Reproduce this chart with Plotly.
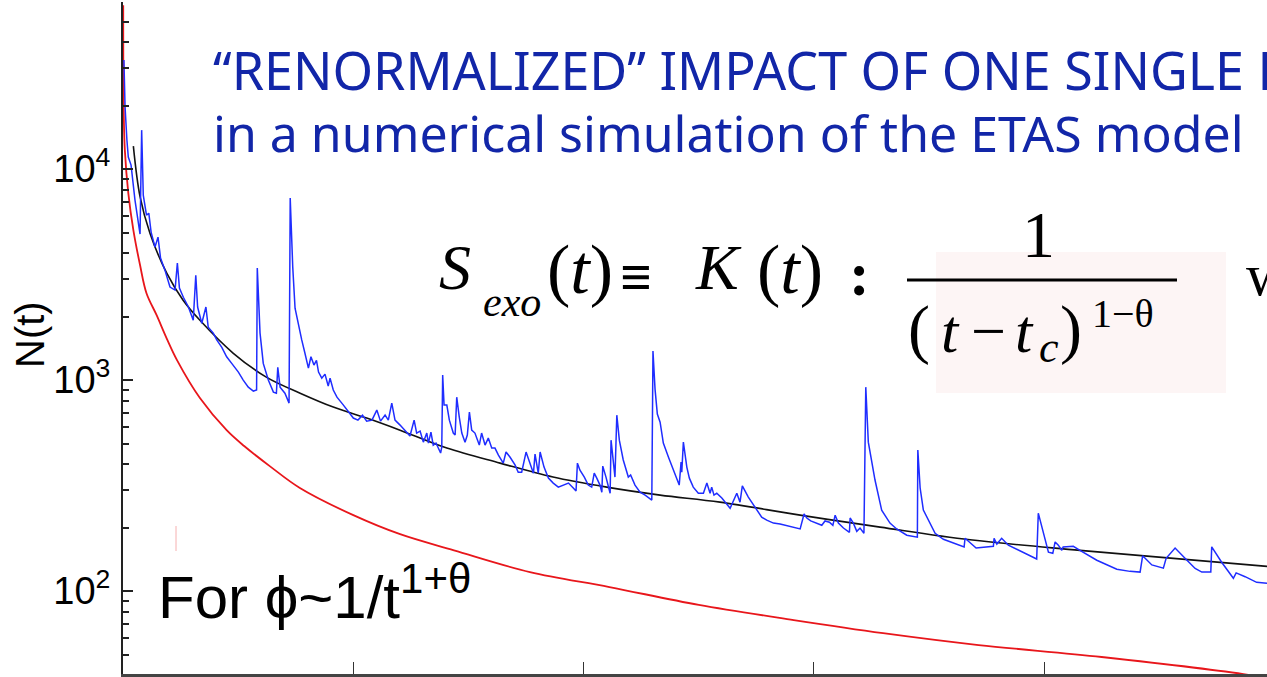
import plotly.graph_objects as go

# ---------------- data ----------------
blue_t = [4, 9, 17, 23, 35, 52, 74, 81, 88, 102, 112, 122, 139, 152, 163, 182, 204, 226, 236, 245,
          262, 284, 305, 316, 324, 342, 360, 370, 392, 407, 429, 450, 472, 486, 501, 522, 544, 566, 580, 583,
          595, 609, 631, 653, 666, 672, 682, 703, 721, 726, 737, 747, 761, 776, 790, 805, 816, 829, 840, 849,
          863, 877, 891, 899, 913, 929, 957, 981, 1000, 1020, 1040, 1058, 1081, 1102, 1118, 1138, 1152, 1167, 1181, 1203,
          1224, 1246, 1264, 1275, 1290, 1304, 1319, 1326, 1337, 1347, 1359, 1369, 1379, 1384, 1388, 1394, 1406, 1417, 1434, 1442,
          1449, 1460, 1471, 1485, 1495, 1504, 1514, 1528, 1547, 1557, 1572, 1586, 1601, 1615, 1630, 1651, 1663, 1680, 1702, 1716,
          1731, 1750, 1767, 1782, 1789, 1803, 1811, 1828, 1847, 1868, 1890, 1919, 1934, 1955, 1967, 1973, 1984, 2003, 2020, 2035,
          2046, 2057, 2071, 2079, 2083, 2097, 2115, 2119, 2129, 2136, 2144, 2155, 2172, 2194, 2204, 2223, 2245, 2267, 2296, 2301,
          2310, 2320, 2332, 2346, 2368, 2389, 2415, 2423, 2426, 2433, 2448, 2459, 2476, 2498, 2520, 2535, 2549, 2556, 2566, 2578,
          2600, 2636, 2665, 2679, 2689, 2715, 2744, 2773, 2795, 2824, 2853, 2896, 2940, 2957, 2969, 2986, 3012, 3034, 3048, 3067,
          3082, 3092, 3106, 3128, 3154, 3157, 3171, 3186, 3200, 3217, 3225, 3236, 3265, 3294, 3330, 3359, 3403, 3449, 3451, 3461,
          3475, 3526, 3562, 3605, 3652, 3656, 3704, 3779, 3782, 3794, 3815, 3844, 3909, 3967, 3974, 3989, 4018, 4037, 4047, 4061,
          4076, 4082, 4098, 4126, 4155, 4228, 4315, 4372, 4416, 4427, 4467, 4495, 4517, 4529, 4568, 4611, 4655, 4684, 4723, 4727,
          4770, 4821, 4833, 4872, 4922, 4967]
blue_n = [32900, 19680, 13710, 11400, 10450, 7130, 4920, 15300, 7530, 6050, 6180, 5030, 4270, 4760, 3790, 3320, 2760, 2670, 3590, 2730,
          2470, 2220, 1920, 3140, 2220, 1860, 2220, 1780, 1670, 1550, 1430, 1290, 1200, 1150, 1091, 1000, 926, 887, 897, 3400,
          1670, 1200, 1000, 877, 867, 1150, 926, 867, 778, 7290, 3430, 2190, 1820, 1550, 1340, 1140, 1290, 1178, 1240, 1091,
          1022, 1067, 937, 1022, 897, 830, 761, 698, 661, 646, 682, 639, 646, 721, 639, 682, 646, 778, 646, 612,
          579, 543, 646, 561, 573, 508, 561, 503, 567, 492, 503, 476, 451, 481, 1056, 761, 761, 646, 561, 549,
          830, 668, 561, 508, 549, 705, 579, 561, 492, 561, 492, 531, 476, 476, 441, 404, 456, 432, 396, 366,
          366, 456, 404, 362, 446, 362, 456, 387, 343, 325, 311, 321, 325, 308, 298, 404, 374, 347, 318, 311,
          362, 343, 318, 294, 391, 347, 291, 519, 409, 347, 682, 519, 418, 347, 355, 318, 294, 285, 270, 1372,
          906, 690, 632, 503, 432, 374, 318, 409, 366, 508, 387, 343, 311, 291, 291, 325, 291, 311, 285, 291,
          276, 247, 291, 264, 315, 279, 250, 224, 217, 210, 208, 203, 197, 232, 222, 215, 210, 205, 215, 212,
          205, 229, 210, 199, 190, 222, 210, 192, 199, 188, 926, 508, 336, 242, 210, 197, 184, 180, 466, 308,
          242, 188, 176, 169, 162, 178, 160, 163, 178, 167, 178, 165, 153, 142, 234, 201, 153, 151, 171, 165,
          156, 162, 162, 163, 156, 140, 127, 124, 123, 147, 133, 131, 128.5, 143, 160, 143, 128, 123, 123, 162,
          137, 115, 122, 117, 110, 109]

fit_t = [45, 74, 117, 190, 261, 334, 479, 624, 769, 913, 1058, 1203, 1406, 1637, 1867, 2100, 2332, 2592, 2940,
         3287, 3678, 4155, 4967]
fit_n = [12850, 7400, 4970, 3210, 2390, 1920, 1340, 1030, 867, 745, 661, 579, 476, 404, 347, 311, 285, 264, 229,
         201, 175, 156, 131]

bare_t = [1, 3, 8, 23, 45, 74, 102, 146, 190, 235, 334, 450, 526, 640, 768, 1000, 1203, 1437, 1767, 2112, 2500,
          2912, 3300, 3715, 4249, 4890, 4967]
bare_n = [59800, 19050, 12300, 7700, 5140, 3510, 2580, 2030, 1573, 1240, 822, 579, 487, 389, 308, 229, 186, 156,
          123, 104.5, 86.0, 72.9, 63.2, 55.5, 48.7, 40.0, 38.5]

x_ticks = [1000, 2000, 3000, 4000]
y_major = [100, 1000, 10000]
y_major_text = ["10<sup>2</sup>", "10<sup>3</sup>", "10<sup>4</sup>"]
y_minor = [50, 60, 70, 80, 90, 200, 300, 400, 500, 600, 700, 800, 900,
           2000, 3000, 4000, 5000, 6000, 7000, 8000, 9000, 20000, 30000, 40000, 50000]

# ---------------- figure ----------------
W, H = 1267, 677
L, R, T, B = 123, 0, 2, 3


def px(X):
    return (X - L) / (W - L - R)


def py(Y):
    return (H - B - Y) / (H - T - B)


METRICS = {"Liberation Serif": (0.891, 0.216), "Liberation Sans": (0.905, 0.212), "Noto Sans": (1.069, 0.293)}


def label(text, left, base, size, family, color="black", anchor="bottom", xanchor="left"):
    asc, desc = METRICS[family]
    if anchor == "bottom":
        y = base + desc * size
    else:
        y = base - (asc - desc) / 2 * size
    return dict(text=text, x=px(left), y=py(y), xanchor=xanchor, yanchor=anchor, xref="paper", yref="paper",
                showarrow=False, borderpad=0, borderwidth=0, font=dict(family=family, size=size, color=color))


fig = go.Figure()
fig.add_trace(go.Scatter(x=bare_t, y=bare_n, mode="lines", line=dict(color="#e8161b", width=1.8, shape="spline"),
                         showlegend=False, hoverinfo="skip"))
fig.add_trace(go.Scatter(x=fit_t, y=fit_n, mode="lines", line=dict(color="#111111", width=1.6, shape="spline"),
                         showlegend=False, hoverinfo="skip"))
fig.add_trace(go.Scatter(x=blue_t, y=blue_n, mode="lines", line=dict(color="#1f2dff", width=1.5),
                         showlegend=False, hoverinfo="skip"))

blue_txt = "#1226a8"
SR = "Liberation Serif"
ann = [
    label("“RENORMALIZED” IMPACT OF ONE SINGLE EVENT", 213, 90, 52, "Noto Sans", blue_txt, "middle"),
    label("in a numerical simulation of the ETAS model", 213, 152, 50, "Noto Sans", blue_txt, "middle"),
    # left-hand side of the formula
    label("<i>S</i>", 439, 289, 64, SR),
    label("<i>exo</i>", 483, 316, 42, SR),
    label("(<i>t</i>)", 547, 293, 70, SR),
    label("<b>≡</b>", 620, 296, 56, SR),
    label("<i>K</i>", 695, 289, 64, SR),
    label("(<i>t</i>)", 757, 293, 70, SR),
    label("<b>:</b>", 849, 295, 62, SR),
    # fraction
    label("1", 1038, 257, 66, SR, xanchor="center"),
    label("(", 908, 352, 66, SR),
    label("<i>t</i>", 941, 352, 62, SR),
    label("−", 971, 352, 62, SR),
    label("<i>t</i>", 1015, 352, 62, SR),
    label("<i>c</i>", 1039, 362, 44, SR),
    label(")", 1060, 352, 66, SR),
    label("1−θ", 1092, 327, 40, SR),
    label("where", 1246, 295, 60, SR),
    # phi annotation
    label("For ϕ~1/t<sup>1+θ</sup>", 158, 618, 60, "Liberation Sans"),
]
ann.append(dict(text="N(t)", x=px(30), y=py(335), xanchor="center", yanchor="middle", textangle=-90,
                xref="paper", yref="paper", showarrow=False,
                font=dict(family="Liberation Sans", size=40, color="black")))

shapes = [
    dict(type="rect", xref="paper", yref="paper", x0=px(936), x1=px(1226), y0=py(393), y1=py(252),
         fillcolor="#fdf5f5", line=dict(width=0), layer="below"),
    dict(type="line", xref="paper", yref="paper", x0=px(907), x1=px(1177), y0=py(280), y1=py(280),
         line=dict(color="black", width=3)),
    dict(type="line", xref="paper", yref="paper", x0=px(176), x1=px(176), y0=py(551), y1=py(526),
         line=dict(color="#f6b0b0", width=1)),
]

fig.update_layout(
    width=W, height=H, margin=dict(l=L, r=R, t=T, b=B, autoexpand=False),
    paper_bgcolor="white", plot_bgcolor="white",
    annotations=ann, shapes=shapes,
    xaxis=dict(range=[0, 4967], showgrid=False, zeroline=False, showline=True, linecolor="#444", linewidth=2.5,
               tickmode="array", tickvals=x_ticks, ticks="inside", ticklen=12, tickwidth=1, tickcolor="#333",
               showticklabels=False),
    yaxis=dict(type="log", range=[1.607, 4.792], showgrid=False, zeroline=False, showline=True, linecolor="#222",
               linewidth=2, tickmode="array", tickvals=y_major, ticktext=y_major_text, ticks="inside", ticklen=10,
               tickwidth=1.5, tickcolor="#222", ticklabelstandoff=3,
               tickfont=dict(family="Liberation Sans", size=38, color="black"),
               minor=dict(tickmode="array", tickvals=y_minor, ticks="inside", ticklen=6, tickwidth=1.5,
                          tickcolor="#222", showgrid=False)),
)

fig.write_html("out.html", config={"displayModeBar": False},
               post_script="document.body.style.margin='0';document.body.style.overflow='hidden';")
